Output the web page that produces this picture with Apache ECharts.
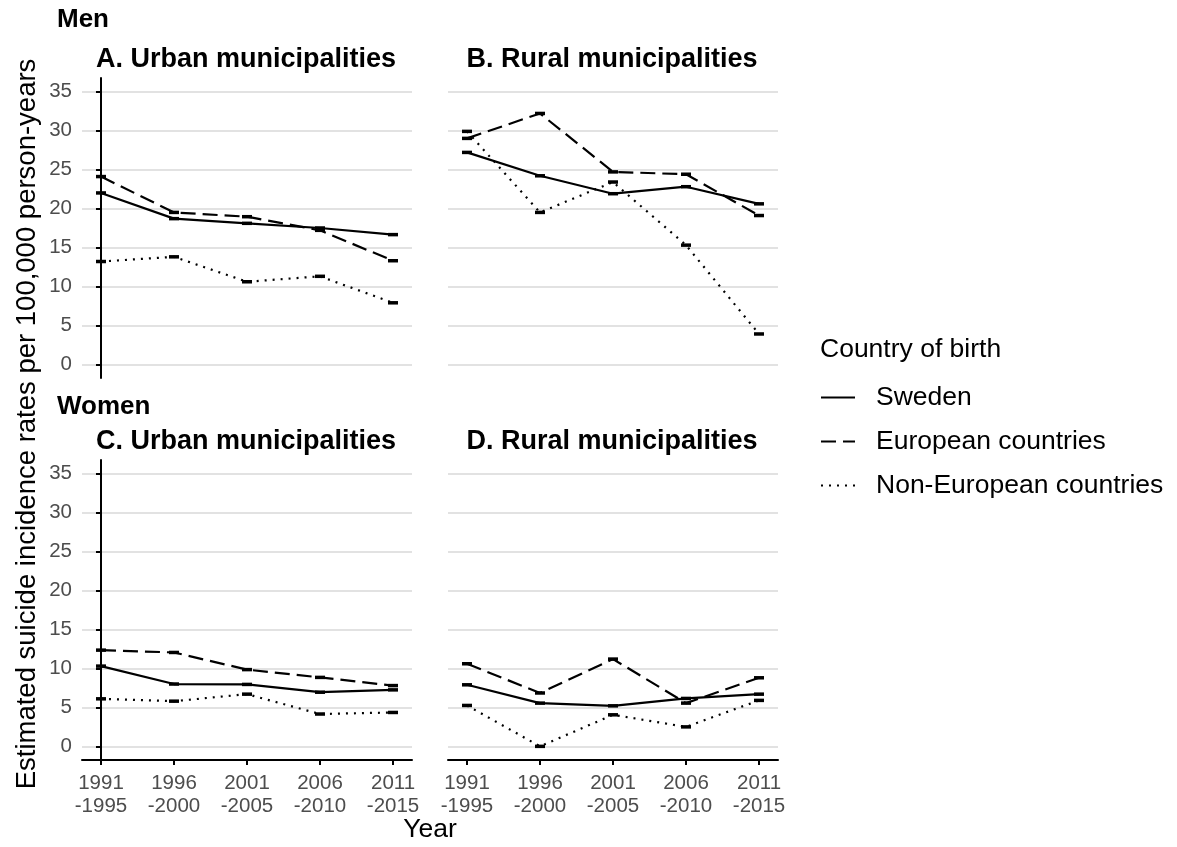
<!DOCTYPE html>
<html>
<head>
<meta charset="utf-8">
<script src="https://cdn.jsdelivr.net/npm/echarts@6/dist/echarts.min.js"></script>
<style>
  html, body { margin: 0; padding: 0; background: #fff; }
  #chart { width: 1177px; height: 847px; }
</style>
</head>
<body>
<div id="chart"></div>
<script>
// Period labels on the x axis
const periods = ['1991\n-1995', '1996\n-2000', '2001\n-2005', '2006\n-2010', '2011\n-2015'];
const yTicks = [0, 5, 10, 15, 20, 25, 30, 35];
const seriesNames = ['Sweden', 'European countries', 'Non-European countries'];

// Estimated suicide incidence per 100,000 person-years
const menUrbanSweden      = [22.0, 18.7, 18.1, 17.5, 16.65];
const menUrbanEuropean    = [24.1, 19.5, 18.95, 17.2, 13.3];
const menUrbanNonEuropean = [13.2, 13.8, 10.6, 11.3, 7.9];

const menRuralSweden      = [27.2, 24.2, 21.9, 22.8, 20.6];
const menRuralEuropean    = [29.0, 32.2, 24.7, 24.4, 19.1];
const menRuralNonEuropean = [29.9, 19.5, 23.4, 15.3, 3.9];

const womenUrbanSweden      = [10.3, 8.0, 7.95, 6.95, 7.25];
const womenUrbanEuropean    = [12.35, 12.05, 9.85, 8.85, 7.8];
const womenUrbanNonEuropean = [6.1, 5.8, 6.7, 4.15, 4.35];

const womenRuralSweden      = [7.9, 5.55, 5.2, 6.15, 6.7];
const womenRuralEuropean    = [10.6, 6.85, 11.2, 5.55, 8.8];
const womenRuralNonEuropean = [5.25, 0.0, 4.05, 2.5, 5.9];

const FONT = '"Liberation Sans", Arial, Helvetica, sans-serif';
const dashTypes = ['solid', [15, 7], [2, 6]];

const panels = [
  { title: 'A. Urban municipalities', left: 82,  top: 78,  showY: true,  showX: false,
    data: [menUrbanSweden, menUrbanEuropean, menUrbanNonEuropean] },
  { title: 'B. Rural municipalities', left: 448, top: 78,  showY: false, showX: false,
    data: [menRuralSweden, menRuralEuropean, menRuralNonEuropean] },
  { title: 'C. Urban municipalities', left: 82,  top: 460, showY: true,  showX: true,
    data: [womenUrbanSweden, womenUrbanEuropean, womenUrbanNonEuropean] },
  { title: 'D. Rural municipalities', left: 448, top: 460, showY: false, showX: true,
    data: [womenRuralSweden, womenRuralEuropean, womenRuralNonEuropean] }
];
const PW = 330, PH = 300;

const grids = [], xAxes = [], yAxes = [], series = [], graphics = [];

panels.forEach((p, i) => {
  grids.push({ left: p.left, top: p.top, width: PW, height: PH, containLabel: false });
  xAxes.push({
    type: 'value', gridIndex: i, min: -0.26, max: 4.26,
    axisLine: { show: p.showX, onZero: false, lineStyle: { color: '#000', width: 2 } },
    axisTick: { show: p.showX, length: 5, customValues: [0, 1, 2, 3, 4], lineStyle: { color: '#000', width: 2 } },
    axisLabel: {
      show: p.showX, customValues: [0, 1, 2, 3, 4], margin: 12,
      formatter: v => periods[Math.round(v)],
      color: '#4d4d4d', fontSize: 20.5, fontFamily: FONT, lineHeight: 23
    },
    splitLine: { show: false }
  });
  yAxes.push({
    type: 'value', gridIndex: i, min: -1.75, max: 36.75,
    axisLine: { show: p.showY, lineStyle: { color: '#000', width: 2 } },
    axisTick: { show: p.showY, length: 5, customValues: yTicks, lineStyle: { color: '#000', width: 2 } },
    axisLabel: {
      show: p.showY, customValues: yTicks, margin: 10,
      color: '#4d4d4d', fontSize: 20.5, fontFamily: FONT
    },
    splitLine: { show: true, lineStyle: { color: '#d9d9d9', width: 1.6 } }
  });
  p.data.forEach((vals, k) => {
    series.push({
      name: seriesNames[k], type: 'line', xAxisIndex: i, yAxisIndex: i,
      data: vals.map((v, j) => [j, v]),
      symbol: 'rect', symbolSize: [10, 3.5], showSymbol: true,
      itemStyle: { color: '#000' },
      lineStyle: { color: '#000', width: 2.2, type: dashTypes[k], cap: 'butt' },
      emphasis: { disabled: true }, silent: true, animation: false
    });
  });
  graphics.push({
    type: 'text', x: p.left + PW / 2 - 1, y: p.top - 18,
    style: { text: p.title, font: 'bold 27px ' + FONT, fill: '#000', align: 'center', verticalAlign: 'middle' }
  });
});

graphics.push(
  { type: 'text', x: 57, y: 20,
    style: { text: 'Men', font: 'bold 26px ' + FONT, fill: '#000', align: 'left', verticalAlign: 'middle' } },
  { type: 'text', x: 57, y: 407,
    style: { text: 'Women', font: 'bold 26px ' + FONT, fill: '#000', align: 'left', verticalAlign: 'middle' } },
  { type: 'text', x: 27, y: 424, rotation: Math.PI / 2,
    style: { text: 'Estimated suicide incidence rates per 100,000 person-years', font: '27.5px ' + FONT,
             fill: '#000', align: 'center', verticalAlign: 'middle' } },
  { type: 'text', x: 430, y: 830,
    style: { text: 'Year', font: '26.5px ' + FONT, fill: '#000', align: 'center', verticalAlign: 'middle' } },
  { type: 'text', x: 820, y: 350,
    style: { text: 'Country of birth', font: '26.5px ' + FONT, fill: '#000', align: 'left', verticalAlign: 'middle' } }
);

const chart = echarts.init(document.getElementById('chart'), null, { renderer: 'canvas' });
chart.setOption({
  animation: false,
  backgroundColor: '#fff',
  grid: grids,
  xAxis: xAxes,
  yAxis: yAxes,
  series: series,
  legend: {
    data: seriesNames,
    orient: 'vertical', left: 815, top: 379,
    itemWidth: 34, itemHeight: 14, itemGap: 17,
    itemStyle: { opacity: 0 },
    textStyle: { fontSize: 26.5, color: '#000', fontFamily: FONT, padding: [0, 0, 0, 16] },
    selectedMode: false
  },
  graphic: graphics
});
</script>
</body>
</html>
